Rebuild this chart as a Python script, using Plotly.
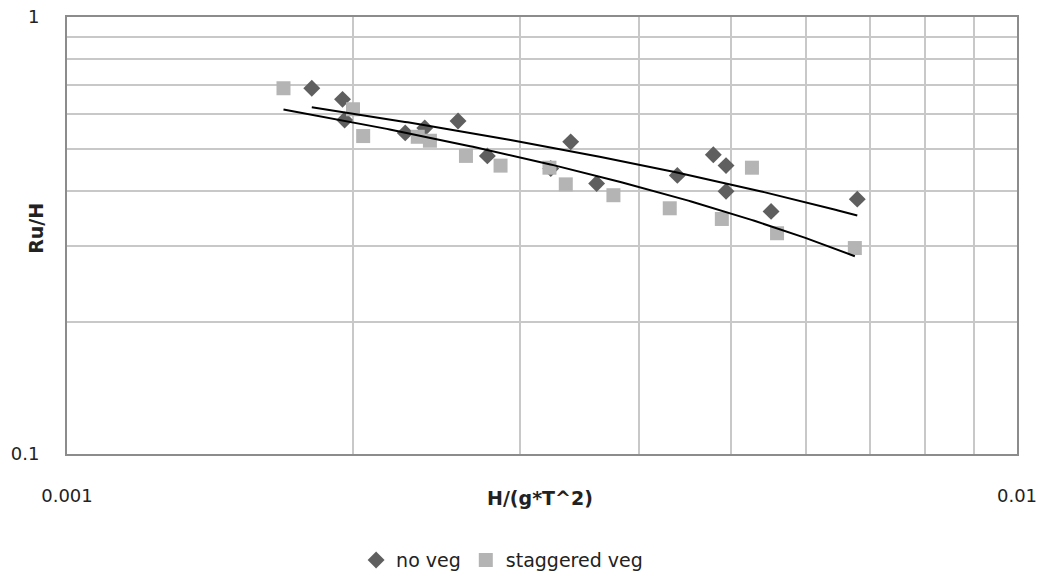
import numpy as np
import plotly.graph_objects as go

# no veg (diamonds)
noveg_x = [0.00181, 0.00195, 0.00196, 0.00227, 0.00238, 0.00258, 0.00277, 0.00323,
           0.00339, 0.00361, 0.00439, 0.00479, 0.00494, 0.00494, 0.00551, 0.00679]
noveg_y = [0.687, 0.648, 0.581, 0.543, 0.557, 0.578, 0.481, 0.450,
           0.518, 0.416, 0.434, 0.484, 0.457, 0.399, 0.359, 0.383]

# staggered veg (squares)
stag_x = [0.00169, 0.00200, 0.00205, 0.00234, 0.00241, 0.00263, 0.00286, 0.00322,
          0.00335, 0.00376, 0.00431, 0.00526, 0.00489, 0.00559, 0.00675]
stag_y = [0.687, 0.615, 0.534, 0.532, 0.521, 0.481, 0.457, 0.452,
          0.414, 0.391, 0.365, 0.452, 0.345, 0.320, 0.296]

x_tickvals = [0.001, 0.01]
x_ticktext = ["0.001", "0.01"]
y_tickvals = [0.1, 1]
y_ticktext = ["0.1", "1"]

FONT = "DejaVu Sans, Liberation Sans, Arial, sans-serif"
GRID = "#c8c8c8"
AXIS = "#8c8c8c"
TXT = "#222222"


def log_trend(xs, ys):
    """Logarithmic trendline y = a*ln(x) + b (least squares)."""
    xs = np.array(xs)
    ys = np.array(ys)
    a, b = np.polyfit(np.log(xs), ys, 1)
    xx = np.geomspace(xs.min(), xs.max(), 200)
    return xx, a * np.log(xx) + b


fig = go.Figure()

fig.add_trace(go.Scatter(
    x=noveg_x, y=noveg_y, mode="markers", name="no veg",
    marker=dict(symbol="diamond", size=13, color="#5f5f5f"),
))
fig.add_trace(go.Scatter(
    x=stag_x, y=stag_y, mode="markers", name="staggered veg",
    marker=dict(symbol="square", size=14, color="#b4b4b4"),
))

tx, ty = log_trend(noveg_x, noveg_y)
fig.add_trace(go.Scatter(x=tx, y=ty, mode="lines", showlegend=False,
                         line=dict(color="black", width=2), hoverinfo="skip"))
tx, ty = log_trend(stag_x, stag_y)
fig.add_trace(go.Scatter(x=tx, y=ty, mode="lines", showlegend=False,
                         line=dict(color="black", width=2), hoverinfo="skip"))

minor_x = [k * 0.001 for k in range(2, 10)]
minor_y = [k * 0.1 for k in range(2, 10)]

fig.update_xaxes(
    type="log", range=[-3, -2], automargin=False,
    tickvals=x_tickvals, ticktext=x_ticktext,
    showgrid=True, gridcolor=GRID, gridwidth=1.5,
    minor=dict(tickvals=minor_x, showgrid=True, gridcolor=GRID, gridwidth=1.5, ticks=""),
    showline=True, linecolor=AXIS, linewidth=2, mirror=True,
    ticks="", ticklabelstandoff=24,
    tickfont=dict(family=FONT, size=18, color=TXT),
    zeroline=False,
)
fig.update_yaxes(
    type="log", range=[-1, 0], automargin=False,
    tickvals=y_tickvals, ticktext=y_ticktext,
    showgrid=True, gridcolor=GRID, gridwidth=1.5,
    minor=dict(tickvals=minor_y, showgrid=True, gridcolor=GRID, gridwidth=1.5, ticks=""),
    showline=True, linecolor=AXIS, linewidth=2, mirror=True,
    ticks="", ticklabelstandoff=22,
    tickfont=dict(family=FONT, size=18, color=TXT),
    zeroline=False,
)

fig.add_annotation(text="<b>H/(g*T^2)</b>", xref="paper", yref="paper",
                   x=0.498, y=-0.100, showarrow=False, yanchor="middle",
                   font=dict(family=FONT, size=19, color=TXT))
fig.add_annotation(text="<b>Ru/H</b>", xref="paper", yref="paper",
                   x=-0.047, y=0.516, showarrow=False, textangle=-90,
                   font=dict(family=FONT, size=19, color=TXT))

fig.update_layout(
    width=1039, height=591,
    margin=dict(l=67, r=22, t=17, b=133),
    paper_bgcolor="white", plot_bgcolor="white",
    legend=dict(orientation="h", x=0.458, xanchor="center", y=-0.243, yanchor="middle",
                font=dict(family=FONT, size=19, color=TXT),
                itemwidth=30, tracegroupgap=0),
    showlegend=True,
)

fig.write_html(
    "out.html",
    config={"displayModeBar": False},
    post_script="document.body.style.margin='0';document.body.style.overflow='hidden';",
)
